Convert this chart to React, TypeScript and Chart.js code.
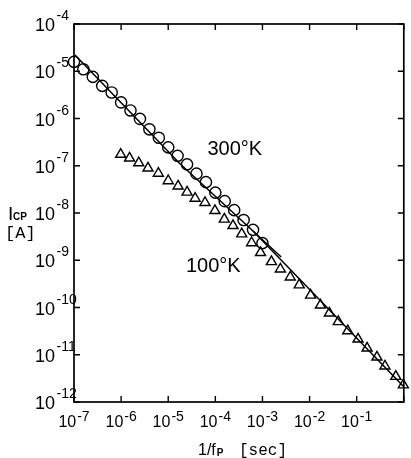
import React, { useEffect, useRef } from "react";
import { Chart, registerables } from "chart.js";

Chart.register(...registerables);

// 300°K measurements (circles)
const circleX = [1e-7, 1.58e-7, 2.51e-7, 3.98e-7, 6.31e-7, 1e-6, 1.58e-6, 2.51e-6, 3.98e-6, 6.31e-6, 1e-5, 1.58e-5, 2.51e-5, 3.98e-5, 6.31e-5, 1e-4, 1.58e-4, 2.51e-4, 3.98e-4, 6.31e-4, 1e-3];
const circleY = [1.58e-5, 1.1e-5, 7.6e-6, 4.9e-6, 3.55e-6, 2.19e-6, 1.48e-6, 9.8e-7, 5.9e-7, 3.9e-7, 2.45e-7, 1.62e-7, 1.07e-7, 6.8e-8, 4.5e-8, 2.7e-8, 1.78e-8, 1.15e-8, 7.1e-9, 4.4e-9, 2.3e-9];

// 100°K measurements (triangles)
const triangleX = [9.8e-7, 1.51e-6, 2.37e-6, 3.72e-6, 6.17e-6, 1e-5, 1.62e-5, 2.51e-5, 3.72e-5, 6.03e-5, 9.8e-5, 1.55e-4, 2.37e-4, 3.63e-4, 5.89e-4, 9.1e-4, 1.55e-3, 2.4e-3, 3.89e-3, 6.03e-3, 1.05e-2, 1.7e-2, 2.63e-2, 4.07e-2, 6.46e-2, 0.107, 0.166, 0.269, 0.398, 0.676, 0.977];
const triangleY = [1.74e-7, 1.45e-7, 1.15e-7, 8.9e-8, 6.9e-8, 4.8e-8, 3.7e-8, 2.75e-8, 2.04e-8, 1.66e-8, 1.12e-8, 7.4e-9, 5.4e-9, 3.6e-9, 2.34e-9, 1.45e-9, 9.3e-10, 6.5e-10, 4.4e-10, 3.0e-10, 1.82e-10, 1.12e-10, 7.6e-11, 5.0e-11, 3.2e-11, 2.14e-11, 1.38e-11, 8.9e-12, 5.75e-12, 3.47e-12, 2.29e-12];

// fitted lines
const line300X = [1.05e-7, 1.78e-5, 2.5e-3];
const line300Y = [2.2e-5, 1.1e-7, 1.17e-9];
const line100X = [6.3e-4, 1];
const line100Y = [4.17e-9, 2.1e-12];

// axes
const xTickExponents = [-7, -6, -5, -4, -3, -2, -1, 0];
const xLabelExponents = [-7, -6, -5, -4, -3, -2, -1];
const yTickExponents = [-12, -11, -10, -9, -8, -7, -6, -5, -4];
const curveLabels = ["300°K", "100°K"];
const curveLabelX = [6.8e-5, 2.37e-5];
const curveLabelY = [1.7e-7, 5.6e-10];

const SANS = "'Liberation Sans', Arial, sans-serif";
const MONO = "'Liberation Mono', 'DejaVu Sans Mono', monospace";

const decorPlugin = {
  id: "decor",
  afterDatasetsDraw(chart: any) {
    const { ctx, chartArea: a, scales } = chart;
    const xs = scales.x;
    const ys = scales.y;
    ctx.save();
    ctx.strokeStyle = "#000";
    ctx.fillStyle = "#000";
    ctx.lineWidth = 1.7;
    ctx.strokeRect(a.left, a.top, a.right - a.left, a.bottom - a.top);

    // inward tick marks on all four sides
    ctx.lineWidth = 1.4;
    ctx.beginPath();
    xTickExponents.forEach((e) => {
      const px = xs.getPixelForValue(Math.pow(10, e));
      ctx.moveTo(px, a.bottom);
      ctx.lineTo(px, a.bottom - 6);
      ctx.moveTo(px, a.top);
      ctx.lineTo(px, a.top + 6);
    });
    yTickExponents.forEach((e) => {
      const py = ys.getPixelForValue(Math.pow(10, e));
      ctx.moveTo(a.left, py);
      ctx.lineTo(a.left + 6, py);
      ctx.moveTo(a.right, py);
      ctx.lineTo(a.right - 6, py);
    });
    ctx.stroke();

    ctx.textBaseline = "alphabetic";
    ctx.textAlign = "left";

    // x tick labels
    xLabelExponents.forEach((e) => {
      const px = xs.getPixelForValue(Math.pow(10, e));
      ctx.font = `16px ${SANS}`;
      const w10 = ctx.measureText("10").width;
      ctx.font = `14px ${SANS}`;
      const expText = `-${Math.abs(e)}`;
      const wExp = ctx.measureText(expText).width;
      const total = w10 + 1 + wExp;
      const start = px - total / 2;
      ctx.font = `16px ${SANS}`;
      ctx.fillText("10", start, a.bottom + 25);
      ctx.font = `14px ${SANS}`;
      ctx.fillText(expText, start + w10 + 1, a.bottom + 19);
    });

    // y tick labels
    yTickExponents.forEach((e) => {
      const py = ys.getPixelForValue(Math.pow(10, e));
      ctx.font = `18px ${SANS}`;
      const w10 = ctx.measureText("10").width;
      ctx.fillText("10", 35, py + 7);
      ctx.font = `14px ${SANS}`;
      ctx.fillText(`-${Math.abs(e)}`, 35 + w10 + 1.5, py - 4);
    });

    // curve labels
    ctx.font = `20px ${SANS}`;
    curveLabels.forEach((t, i) => {
      ctx.fillText(t, xs.getPixelForValue(curveLabelX[i]), ys.getPixelForValue(curveLabelY[i]));
    });

    // y-axis title: I_CP [A]
    ctx.font = `19px ${SANS}`;
    ctx.fillText("I", 8, 220);
    ctx.font = `bold 10px ${SANS}`;
    ctx.fillText("CP", 13, 220);
    ctx.font = `17px ${MONO}`;
    ctx.fillText("[A]", 5, 238);

    // x-axis title: 1/f_P [sec]
    ctx.font = `16px ${SANS}`;
    ctx.fillText("1/f", 198, 455);
    const wf = ctx.measureText("1/f").width;
    ctx.font = `bold 10px ${SANS}`;
    ctx.fillText("P", 198 + wf + 1, 456);
    ctx.font = `16px ${MONO}`;
    ctx.fillText("[sec]", 239, 455);

    ctx.restore();
  },
};

export default function App() {
  const ref = useRef<HTMLCanvasElement | null>(null);

  useEffect(() => {
    document.body.style.margin = "0";
    const canvas = ref.current;
    if (!canvas) return;
    const toPts = (xs: number[], ys: number[]) => xs.map((x, i) => ({ x, y: ys[i] }));
    const chart = new Chart(canvas, {
      type: "scatter",
      data: {
        datasets: [
          {
            label: "300°K fit",
            data: toPts(line300X, line300Y),
            showLine: true,
            borderColor: "#000",
            borderWidth: 1.5,
            pointRadius: 0,
            tension: 0,
            clip: false,
          },
          {
            label: "100°K fit",
            data: toPts(line100X, line100Y),
            showLine: true,
            borderColor: "#000",
            borderWidth: 1.5,
            pointRadius: 0,
            tension: 0,
            clip: false,
          },
          {
            label: "300°K",
            data: toPts(circleX, circleY),
            pointStyle: "circle",
            pointRadius: 5.6,
            pointBorderWidth: 1.4,
            pointBorderColor: "#000",
            pointBackgroundColor: "rgba(0,0,0,0)",
            borderColor: "#000",
            backgroundColor: "rgba(0,0,0,0)",
            clip: false,
          },
          {
            label: "100°K",
            data: toPts(triangleX, triangleY),
            pointStyle: "triangle",
            pointRadius: 5.8,
            pointBorderWidth: 1.4,
            pointBorderColor: "#000",
            pointBackgroundColor: "rgba(0,0,0,0)",
            borderColor: "#000",
            backgroundColor: "rgba(0,0,0,0)",
            clip: false,
          },
        ],
      },
      options: {
        animation: false,
        responsive: false,
        devicePixelRatio: 1,
        events: [],
        layout: { padding: { left: 74, right: 1, top: 24, bottom: 56 } },
        plugins: {
          legend: { display: false },
          tooltip: { enabled: false },
        },
        scales: {
          x: { type: "logarithmic", min: 1e-7, max: 1, display: false },
          y: { type: "logarithmic", min: 1e-12, max: 1e-4, display: false },
        },
      },
      plugins: [decorPlugin],
    } as any);
    return () => chart.destroy();
  }, []);

  return (
    <div style={{ width: 411, height: 458, position: "relative" }}>
      <canvas ref={ref} width={411} height={458} style={{ display: "block" }} />
    </div>
  );
}
